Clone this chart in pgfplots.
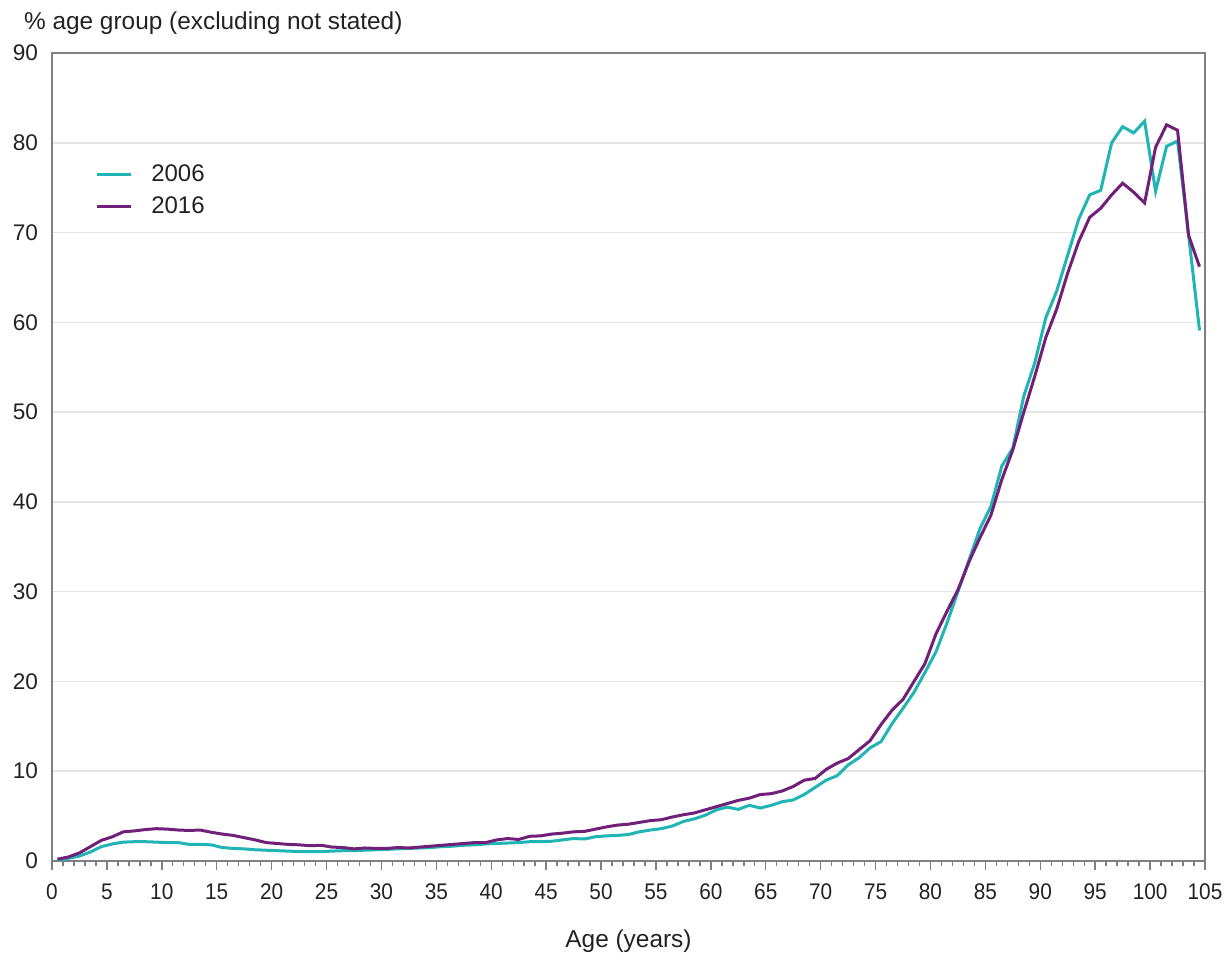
\documentclass[border=0pt]{standalone}
\usepackage{pgfplots}
\pgfplotsset{compat=1.18}
\usepackage{fontspec}
\setmainfont{Liberation Sans}
\definecolor{teal06}{RGB}{32,180,180}
\definecolor{purp16}{RGB}{112,32,120}
\definecolor{axgray}{RGB}{128,128,128}
\definecolor{gridgray}{RGB}{228,228,228}
\definecolor{txt}{RGB}{34,34,34}
\pgfplotstableread{
x y
0.5 0.1
1.5 0.3
2.5 0.55
3.5 1.0
4.5 1.6
5.5 1.9
6.5 2.1
7.5 2.15
8.5 2.15
9.5 2.1
10.5 2.05
11.5 2.05
12.5 1.85
13.5 1.85
14.5 1.8
15.5 1.5
16.5 1.4
17.5 1.35
18.5 1.25
19.5 1.2
20.5 1.15
21.5 1.1
22.5 1.05
23.5 1.05
24.5 1.05
25.5 1.1
26.5 1.15
27.5 1.15
28.5 1.2
29.5 1.25
30.5 1.3
31.5 1.35
32.5 1.4
33.5 1.45
34.5 1.5
35.5 1.6
36.5 1.65
37.5 1.75
38.5 1.8
39.5 1.9
40.5 1.95
41.5 2.0
42.5 2.05
43.5 2.15
44.5 2.15
45.5 2.2
46.5 2.35
47.5 2.5
48.5 2.45
49.5 2.7
50.5 2.8
51.5 2.85
52.5 2.95
53.5 3.25
54.5 3.45
55.5 3.6
56.5 3.9
57.5 4.4
58.5 4.7
59.5 5.1
60.5 5.7
61.5 6.0
62.5 5.75
63.5 6.2
64.5 5.9
65.5 6.2
66.5 6.6
67.5 6.8
68.5 7.4
69.5 8.2
70.5 9.0
71.5 9.5
72.5 10.7
73.5 11.5
74.5 12.6
75.5 13.3
76.5 15.3
77.5 17.0
78.5 18.8
79.5 21.0
80.5 23.3
81.5 26.5
82.5 30.0
83.5 33.5
84.5 37.0
85.5 39.5
86.5 44.0
87.5 46.0
88.5 51.8
89.5 55.5
90.5 60.5
91.5 63.5
92.5 67.5
93.5 71.5
94.5 74.2
95.5 74.7
96.5 80.0
97.5 81.8
98.5 81.1
99.5 82.4
100.5 74.6
101.5 79.6
102.5 80.2
103.5 69.8
104.5 59.1
}\dataA
\pgfplotstableread{
x y
0.5 0.2
1.5 0.45
2.5 0.9
3.5 1.6
4.5 2.3
5.5 2.7
6.5 3.25
7.5 3.35
8.5 3.5
9.5 3.6
10.5 3.55
11.5 3.45
12.5 3.4
13.5 3.45
14.5 3.2
15.5 3.0
16.5 2.85
17.5 2.6
18.5 2.35
19.5 2.05
20.5 1.95
21.5 1.85
22.5 1.8
23.5 1.7
24.5 1.75
25.5 1.55
26.5 1.5
27.5 1.35
28.5 1.45
29.5 1.4
30.5 1.4
31.5 1.5
32.5 1.45
33.5 1.55
34.5 1.65
35.5 1.75
36.5 1.85
37.5 1.95
38.5 2.05
39.5 2.05
40.5 2.35
41.5 2.5
42.5 2.4
43.5 2.75
44.5 2.8
45.5 3.0
46.5 3.1
47.5 3.25
48.5 3.3
49.5 3.55
50.5 3.8
51.5 4.0
52.5 4.1
53.5 4.3
54.5 4.5
55.5 4.6
56.5 4.9
57.5 5.15
58.5 5.35
59.5 5.7
60.5 6.05
61.5 6.4
62.5 6.75
63.5 7.0
64.5 7.4
65.5 7.5
66.5 7.8
67.5 8.3
68.5 9.0
69.5 9.2
70.5 10.2
71.5 10.9
72.5 11.4
73.5 12.4
74.5 13.4
75.5 15.2
76.5 16.8
77.5 18.0
78.5 20.0
79.5 22.0
80.5 25.3
81.5 27.8
82.5 30.2
83.5 33.3
84.5 36.0
85.5 38.5
86.5 42.5
87.5 45.8
88.5 50.0
89.5 54.0
90.5 58.3
91.5 61.5
92.5 65.5
93.5 69.0
94.5 71.7
95.5 72.7
96.5 74.2
97.5 75.5
98.5 74.5
99.5 73.3
100.5 79.5
101.5 82.0
102.5 81.4
103.5 69.7
104.5 66.2
}\dataB
\begin{document}
\begin{tikzpicture}
\begin{axis}[
  scale only axis,
  width=576.5pt, height=404pt,
  xmin=0, xmax=105, ymin=0, ymax=90,
  xtick={0,5,...,105},
  ytick={0,10,...,90},
  minor x tick num=4,
  axis line style={axgray, line width=0.9pt},
  tick align=outside,
  x tick style={axgray, line width=0.7pt},
  major tick length=4.5pt,
  minor tick length=2.6pt,
  xtick pos=bottom,
  ytick style={draw=none},
  ymajorgrids,
  major grid style={gridgray, line width=0.8pt},
  tick label style={font=\fontsize{11.3}{13}\selectfont, text=txt},
  /pgf/number format/assume math mode=true,
  yticklabel style={xshift=1pt},
  xticklabel={\scalebox{0.92}[1]{\pgfmathprintnumber{\tick}}},
  xticklabel style={yshift=-3.5pt},
  clip=false,
  legend style={draw=none, fill=none, at={(rel axis cs:0.032,0.872)}, anchor=north west,
    font=\fontsize{12}{14}\selectfont, text=txt, row sep=2pt},
  legend cell align=left,
  legend image code/.code={\draw[#1] (0pt,0pt) -- (17pt,0pt); \path (24.5pt,0pt);},
]
\addplot[teal06, line width=1.5pt] table {\dataA};
\addlegendentry{2006}
\addplot[purp16, line width=1.5pt] table {\dataB};
\addlegendentry{2016}
\node[anchor=west, text=txt, font=\fontsize{12.2}{14}\selectfont] at ([xshift=-17.5pt, yshift=15pt]rel axis cs:0,1) {\% age group (excluding not stated)};
\node[text=txt, font=\fontsize{12.2}{14}\selectfont] at ([yshift=-40pt]rel axis cs:0.5,0) {Age (years)};
\path ([xshift=-26pt, yshift=-50.5pt]rel axis cs:0,0) rectangle ([xshift=13.5pt, yshift=26.5pt]rel axis cs:1,1);
\end{axis}
\end{tikzpicture}
\end{document}
